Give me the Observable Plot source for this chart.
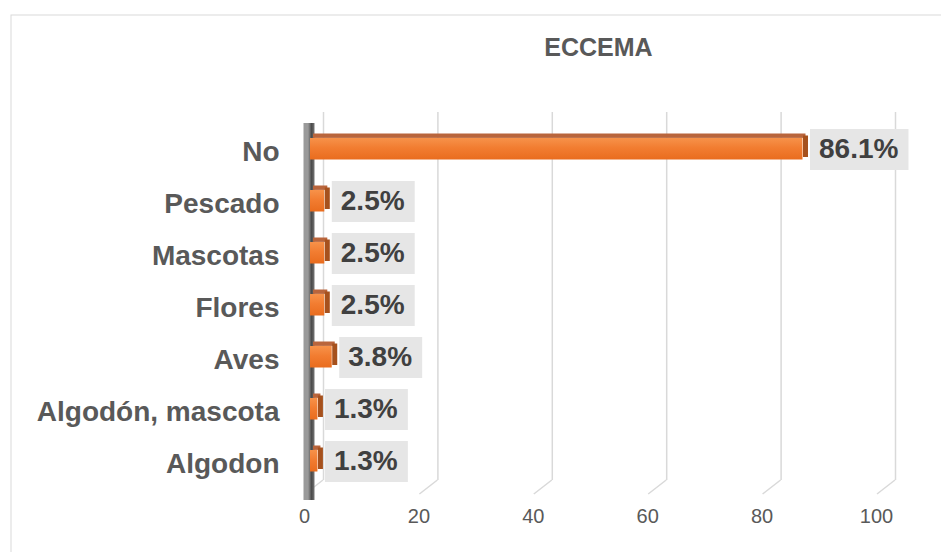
<!DOCTYPE html>
<html>
<head>
<meta charset="utf-8">
<script src="https://cdn.jsdelivr.net/npm/d3@7"></script>
<script src="https://cdn.jsdelivr.net/npm/@observablehq/plot@0.6"></script>
<style>
  html, body { margin: 0; padding: 0; background: #fff; }
  svg { display: block; }
</style>
</head>
<body>
<div id="chart"></div>
<script>
const title = "ECCEMA";
const categories = ["No", "Pescado", "Mascotas", "Flores", "Aves", "Algodón, mascota", "Algodon"];
const values = [86.1, 2.5, 2.5, 2.5, 3.8, 1.3, 1.3];
const valueLabels = ["86.1%", "2.5%", "2.5%", "2.5%", "3.8%", "1.3%", "1.3%"];
const xTicks = [0, 20, 40, 60, 80, 100];

const data = categories.map((c, i) => ({category: c, value: values[i], label: valueLabels[i]}));
const FONT = "'Liberation Sans', Arial, Helvetica, sans-serif";

// gradient definitions
const defs = () => {
  const d = d3.create("svg:defs");
  const bg = d.append("linearGradient").attr("id", "barGrad")
    .attr("x1", 0).attr("y1", 0).attr("x2", 0).attr("y2", 1);
  bg.append("stop").attr("offset", "0%").attr("stop-color", "#f7924a");
  bg.append("stop").attr("offset", "45%").attr("stop-color", "#f27d31");
  bg.append("stop").attr("offset", "100%").attr("stop-color", "#e96c1e");
  const wg = d.append("linearGradient").attr("id", "wallGrad")
    .attr("gradientUnits", "userSpaceOnUse")
    .attr("x1", 303).attr("y1", 0).attr("x2", 315).attr("y2", 0);
  wg.append("stop").attr("offset", "0%").attr("stop-color", "#9a9a9a");
  wg.append("stop").attr("offset", "30%").attr("stop-color", "#4a4a4a");
  wg.append("stop").attr("offset", "65%").attr("stop-color", "#8a8a8a");
  wg.append("stop").attr("offset", "100%").attr("stop-color", "#dadada");
  return d.node();
};

// slanted floor "feet" of the back-wall gridlines
const feet = (index, scales, values, dims) => {
  const g = d3.create("svg:g").attr("stroke", "#d9d9d9").attr("stroke-width", 1.5);
  const bottom = dims.height - dims.marginBottom;
  for (const t of xTicks) {
    const x = scales.x(t);
    g.append("line")
      .attr("x1", x + 19).attr("y1", bottom - 8)
      .attr("x2", x + 1).attr("y2", bottom + 6);
  }
  return g.node();
};

const chart = Plot.plot({
  width: 941,
  height: 552,
  marginLeft: 304,
  marginRight: 65,
  marginTop: 122,
  marginBottom: 64,
  style: {fontFamily: FONT, background: "#ffffff", overflow: "visible"},
  x: {domain: [0, 100], axis: null},
  y: {domain: categories, paddingInner: 0.5, paddingOuter: 0.25, axis: null},
  marks: [
    defs,
    Plot.frame({stroke: "#d9d9d9", insetLeft: -293.5, insetTop: -107.5, insetRight: -80, insetBottom: -80}),
    // back-wall gridlines
    Plot.ruleX(xTicks, {x: d => d, dx: 19, insetTop: -10, insetBottom: 8, stroke: "#d9d9d9", strokeWidth: 1.5}),
    feet,
    // left wall
    Plot.ruleX([0], {x: d => d, dx: 4.5, insetTop: 1, insetBottom: -12, stroke: "url(#wallGrad)", strokeWidth: 11}),
    // bar top face
    Plot.barX(data, {x: "value", y: "category", dx: 9, dy: -2.5, insetBottom: 21.6, fill: "#b9653c"}),
    // bar front face
    Plot.barX(data, {x: "value", y: "category", dx: 6, dy: -2.5, insetTop: 4.5, fill: "url(#barGrad)"}),
    // bar side face
    Plot.tickX(data, {x: "value", y: "category", dx: 8.5, dy: -2.5, insetTop: 2, insetBottom: 2.5, stroke: "#a6511d", strokeWidth: 5}),
    // value labels
    Plot.text(data, {
      x: "value", y: "category", text: "label", dx: 22, textAnchor: "start",
      fontSize: 28, fontWeight: "bold", fill: "#404040", ariaDescription: "value-labels"
    }),
    // category labels
    Plot.text(categories, {
      y: d => d, text: d => d, frameAnchor: "left", textAnchor: "end", dx: -25, dy: 3,
      fontSize: 28, fontWeight: "bold", fill: "#595959"
    }),
    // x tick labels
    Plot.text(xTicks, {
      x: d => d, text: d => String(d), frameAnchor: "bottom", dy: 34,
      fontSize: 20, fill: "#595959"
    }),
    // title
    Plot.text([title], {
      text: d => d, frameAnchor: "top", dx: 8, dy: -84,
      fontSize: 25, fontWeight: "bold", fill: "#595959"
    })
  ]
});

document.getElementById("chart").append(chart);

// gray boxes behind value labels (centered on each label's anchor point)
chart.querySelectorAll('g[aria-description="value-labels"] text').forEach(t => {
  const b = t.getBBox();
  const r = document.createElementNS("http://www.w3.org/2000/svg", "rect");
  r.setAttribute("x", b.x - 9);
  r.setAttribute("y", -20.5);
  r.setAttribute("width", b.width + 19);
  r.setAttribute("height", 41);
  r.setAttribute("fill", "#e6e6e6");
  r.setAttribute("stroke", "none");
  const tr = t.getAttribute("transform");
  if (tr) r.setAttribute("transform", tr);
  t.parentNode.insertBefore(r, t);
});
</script>
</body>
</html>
